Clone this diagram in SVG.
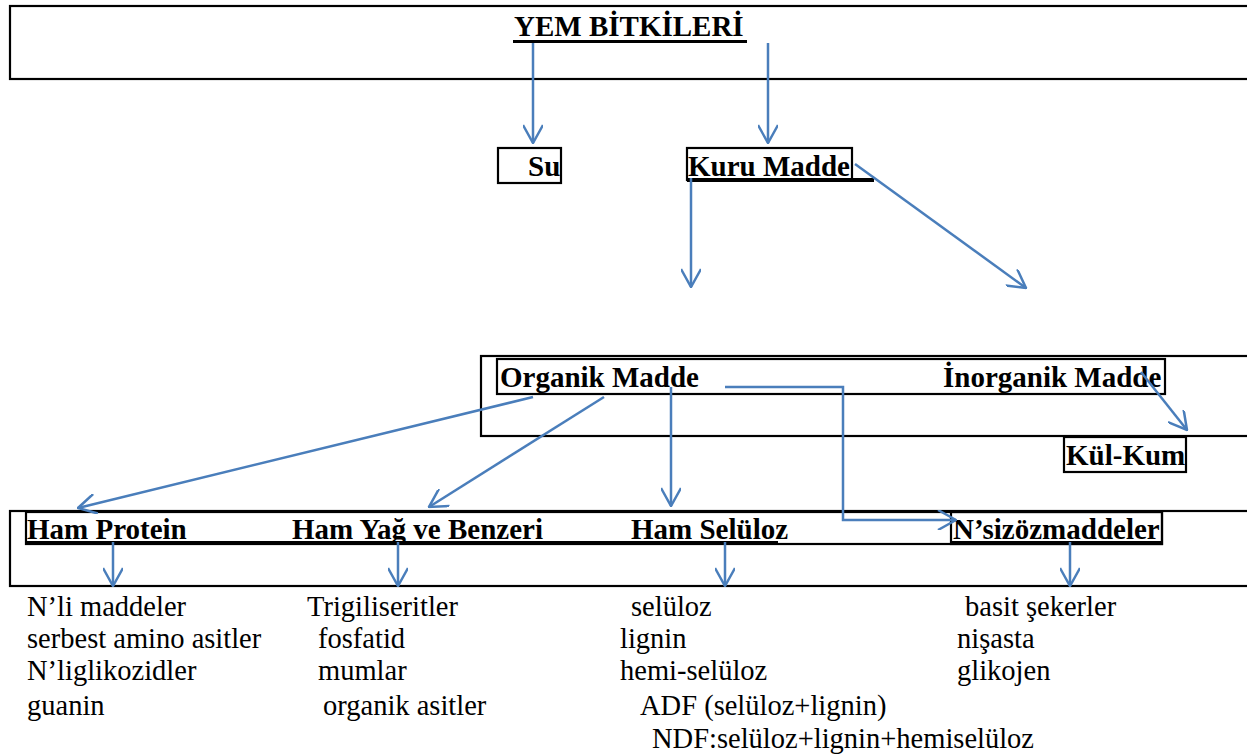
<svg xmlns="http://www.w3.org/2000/svg" width="1247" height="755" viewBox="0 0 1247 755">
<style>
.box{fill:none;stroke:#000;stroke-width:2.2}
.hd{font-family:"Liberation Serif","Times New Roman",serif;font-weight:bold;font-size:29px;fill:#000}
.tx{font-family:"Liberation Serif","Times New Roman",serif;font-size:28.5px;fill:#000}
.ul{fill:#000}
.c{fill:none;stroke:#4A7EBB;stroke-width:2.5;marker-end:url(#ah)}
</style>
<defs>
<marker id="ah" viewBox="0 0 20 20" refX="19" refY="10" markerWidth="20" markerHeight="20" markerUnits="userSpaceOnUse" orient="auto">
<path d="M1,0 L19,10 L1,20" fill="none" stroke="#4A7EBB" stroke-width="2.5"/>
</marker>
</defs>
<rect width="1247" height="755" fill="#fff"/>

<g id="yem-bitkileri">
<rect class="box" x="10" y="6" width="1250" height="73"/>
<text class="hd" x="514" y="36" font-size="29.5">YEM BİTKİLERİ</text>
<rect class="ul" x="513" y="40" width="234" height="3"/>
</g>

<g id="su">
<rect class="box" x="498" y="148" width="63" height="35"/>
<text class="hd" x="528" y="176">Su</text>
</g>

<g id="kuru-madde">
<rect class="box" x="687" y="148" width="165" height="32"/>
<text class="hd" x="688" y="176">Kuru Madde</text>
<rect class="ul" x="687" y="178" width="187" height="4"/>
</g>

<g id="madde-grup">
<rect class="box" x="481" y="356" width="790" height="80"/>
<rect class="box" x="497" y="359" width="668" height="35"/>
</g>

<g id="organik-madde">
<text class="hd" x="500" y="387">Organik Madde</text>
</g>

<g id="inorganik-madde">
<text class="hd" x="943" y="387">İnorganik Madde</text>
</g>

<g id="kul-kum">
<rect class="box" x="1064" y="437" width="122" height="35"/>
<text class="hd" x="1066" y="465">Kül-Kum</text>
</g>

<g id="besin-grup">
<rect class="box" x="10" y="511" width="1250" height="75"/>
<rect class="box" x="26" y="512" width="1136" height="32"/>
<rect class="ul" x="26" y="541" width="752" height="4"/>
<rect class="ul" x="951" y="541" width="211" height="4"/>
</g>

<g id="ham-protein">
<text class="hd" x="27" y="539">Ham Protein</text>
<text class="tx" x="27" y="616">N’li maddeler</text>
<text class="tx" x="27" y="648">serbest amino asitler</text>
<text class="tx" x="27" y="680">N’liglikozidler</text>
<text class="tx" x="27" y="715">guanin</text>
</g>

<g id="ham-yag">
<text class="hd" x="292" y="539">Ham Yağ ve Benzeri</text>
<text class="tx" x="307" y="616">Trigiliseritler</text>
<text class="tx" x="318" y="648">fosfatid</text>
<text class="tx" x="318" y="680">mumlar</text>
<text class="tx" x="323" y="715">organik asitler</text>
</g>

<g id="ham-seluloz">
<text class="hd" x="631" y="539">Ham Selüloz</text>
<text class="tx" x="631" y="616">selüloz</text>
<text class="tx" x="620" y="648">lignin</text>
<text class="tx" x="620" y="680">hemi-selüloz</text>
<text class="tx" x="640" y="715">ADF (selüloz+lignin)</text>
<text class="tx" x="652" y="748">NDF:selüloz+lignin+hemiselüloz</text>
</g>

<g id="nsizozmaddeler">
<rect class="box" x="951" y="512" width="211" height="32"/>
<text class="hd" x="953" y="539">N’sizözmaddeler</text>
<text class="tx" x="965" y="616">basit şekerler</text>
<text class="tx" x="957" y="648">nişasta</text>
<text class="tx" x="957" y="680">glikojen</text>
</g>

<g id="connectors">
<line class="c" x1="533" y1="43" x2="533" y2="143"/>
<line class="c" x1="768" y1="43" x2="768" y2="143"/>
<line class="c" x1="691" y1="178" x2="691" y2="287"/>
<line class="c" x1="855" y1="164" x2="1026" y2="288"/>
<line class="c" x1="533" y1="397" x2="78" y2="508"/>
<line class="c" x1="604" y1="397" x2="429" y2="507"/>
<line class="c" x1="671" y1="387" x2="671" y2="506"/>
<polyline class="c" points="725,387 843,387 843,520 956,520"/>
<line class="c" x1="1141" y1="372" x2="1187" y2="430"/>
<line class="c" x1="113" y1="542" x2="113" y2="586"/>
<line class="c" x1="398" y1="542" x2="398" y2="586"/>
<line class="c" x1="725" y1="542" x2="725" y2="586"/>
<line class="c" x1="1070" y1="542" x2="1070" y2="586"/>
</g>
</svg>
